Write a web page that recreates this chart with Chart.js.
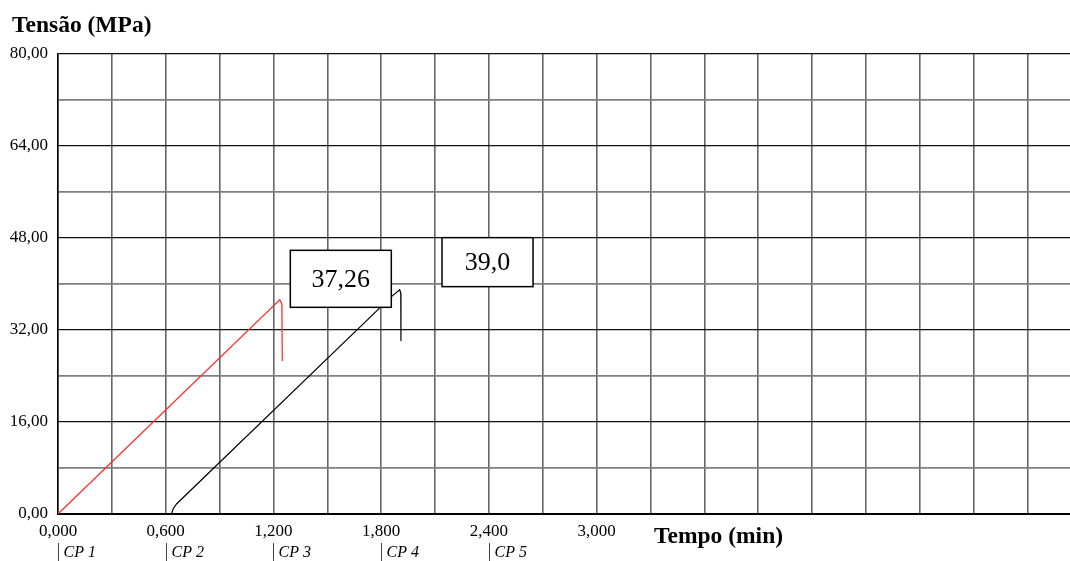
<!DOCTYPE html>
<html>
<head>
<meta charset="utf-8">
<script src="https://cdn.jsdelivr.net/npm/chart.js@4.4.1/dist/chart.umd.min.js"></script>
<style>
    html, body { margin: 0; padding: 0; background: #fff; overflow: hidden; }
    #wrap { width: 1070px; height: 561px; overflow: hidden; }
</style>
</head>
<body>
<div id="wrap"><canvas id="chartCanvas" width="1090" height="561"></canvas></div>
<script>
// CP 1 (red) and CP 2 (black) curves, tempo (min) x tensão (MPa)
const cp1Time = [0, 1.235, 1.247, 1.249];
const cp1Stress = [0, 37.26, 36.5, 26.6];
const cp2Time = [0.632, 0.641, 0.660, 1.860, 1.903, 1.909, 1.910];
const cp2Stress = [0, 0.87, 1.74, 37.9, 39.0, 38.4, 30.1];

// specimen markers under the x axis
const cpLabels = ["CP 1", "CP 2", "CP 3", "CP 4", "CP 5"];
const cpTimes = [0, 0.6, 1.2, 1.8, 2.4];

// value boxes
const boxTexts = ["37,26", "39,0"];
const boxTime = [1.575, 2.392];
const boxStress = [40.9, 43.8];

const xMin = 0, xMax = 5.7, xStep = 0.3, xLabelStep = 0.6, xLabelMax = 3.0;
const yMin = 0, yMax = 80, yStep = 8, yLabelStep = 16;

const serif = "'Liberation Serif', 'DejaVu Serif', serif";

function pairs(xs, ys) {
    return xs.map((x, i) => ({ x: x, y: ys[i] }));
}

function isMultiple(v, step) {
    const r = v / step;
    return Math.abs(r - Math.round(r)) < 1e-6;
}

const extras = {
    id: "extras",
    afterDatasetsDraw(chart) {
        const ctx = chart.ctx;
        const xs = chart.scales.x;
        const ys = chart.scales.y;
        ctx.save();

        // value boxes
        const sizes = [[101, 57], [91, 49]];
        boxTexts.forEach((t, i) => {
            const cx = xs.getPixelForValue(boxTime[i]);
            const cy = ys.getPixelForValue(boxStress[i]);
            const w = sizes[i][0], h = sizes[i][1];
            ctx.fillStyle = "#fff";
            ctx.fillRect(cx - w / 2, cy - h / 2, w, h);
            ctx.strokeStyle = "#000";
            ctx.lineWidth = 1.5;
            ctx.strokeRect(cx - w / 2, cy - h / 2, w, h);
            ctx.fillStyle = "#000";
            ctx.font = "26px " + serif;
            ctx.textAlign = "center";
            ctx.textBaseline = "middle";
            ctx.fillText(t, cx, cy + 1);
        });

        // CP markers
        ctx.font = "italic 16px " + serif;
        ctx.textAlign = "left";
        ctx.textBaseline = "alphabetic";
        cpLabels.forEach((t, i) => {
            const px = Math.round(xs.getPixelForValue(cpTimes[i])) + 0.5;
            ctx.strokeStyle = "#444";
            ctx.lineWidth = 1;
            ctx.beginPath();
            ctx.moveTo(px, 543);
            ctx.lineTo(px, 561);
            ctx.stroke();
            ctx.fillStyle = "#000";
            ctx.fillText(t, px + 5, 557);
        });

        // axis titles
        ctx.font = "bold 23.5px " + serif;
        ctx.fillStyle = "#000";
        ctx.fillText("Tensão (MPa)", 12, 32);
        ctx.fillText("Tempo (min)", 654, 543);
        ctx.restore();
    }
};

new Chart(document.getElementById("chartCanvas"), {
    type: "line",
    data: {
        datasets: [{
            label: "CP 1",
            data: pairs(cp1Time, cp1Stress),
            borderColor: "#ff3030",
            borderWidth: 1.3,
            pointRadius: 0,
            tension: 0
        }, {
            label: "CP 2",
            data: pairs(cp2Time, cp2Stress),
            borderColor: "#000",
            borderWidth: 1.2,
            pointRadius: 0,
            tension: 0
        }]
    },
    options: {
        responsive: false,
        animation: false,
        layout: { padding: { top: 54, left: 0, right: 8.5, bottom: 0 } },
        plugins: {
            legend: { display: false },
            tooltip: { enabled: false }
        },
        scales: {
            x: {
                type: "linear",
                min: xMin,
                max: xMax,
                afterFit(scale) { scale.height = 47; },
                afterBuildTicks(scale) {
                    const t = [];
                    for (let i = 0; i * xStep <= xMax + 1e-9; i++) t.push({ value: +(i * xStep).toFixed(4) });
                    scale.ticks = t;
                },
                ticks: {
                    autoSkip: false,
                    maxRotation: 0,
                    padding: 7,
                    color: "#000",
                    font: { family: serif, size: 17 },
                    callback(v) {
                        if (isMultiple(v, xLabelStep) && v <= xLabelMax + 1e-6) return v.toFixed(3).replace(".", ",");
                        return "";
                    }
                },
                grid: { color: "#666", lineWidth: 1.6, drawTicks: false },
                border: { color: "#000", width: 2 }
            },
            y: {
                min: yMin,
                max: yMax,
                afterFit(scale) { scale.width = 58; },
                ticks: {
                    stepSize: yStep,
                    padding: 10,
                    color: "#000",
                    font: { family: serif, size: 17 },
                    callback(v) {
                        if (isMultiple(v, yLabelStep)) return v.toFixed(2).replace(".", ",");
                        return "";
                    }
                },
                grid: {
                    drawTicks: false,
                    color: ctx => (ctx.tick && isMultiple(ctx.tick.value, yLabelStep)) ? "#111" : "#808080",
                    lineWidth: ctx => (ctx.tick && isMultiple(ctx.tick.value, yLabelStep)) ? 1.3 : 1.8
                },
                border: { color: "#000", width: 1.5 }
            }
        }
    },
    plugins: [extras]
});
</script>
</body>
</html>
